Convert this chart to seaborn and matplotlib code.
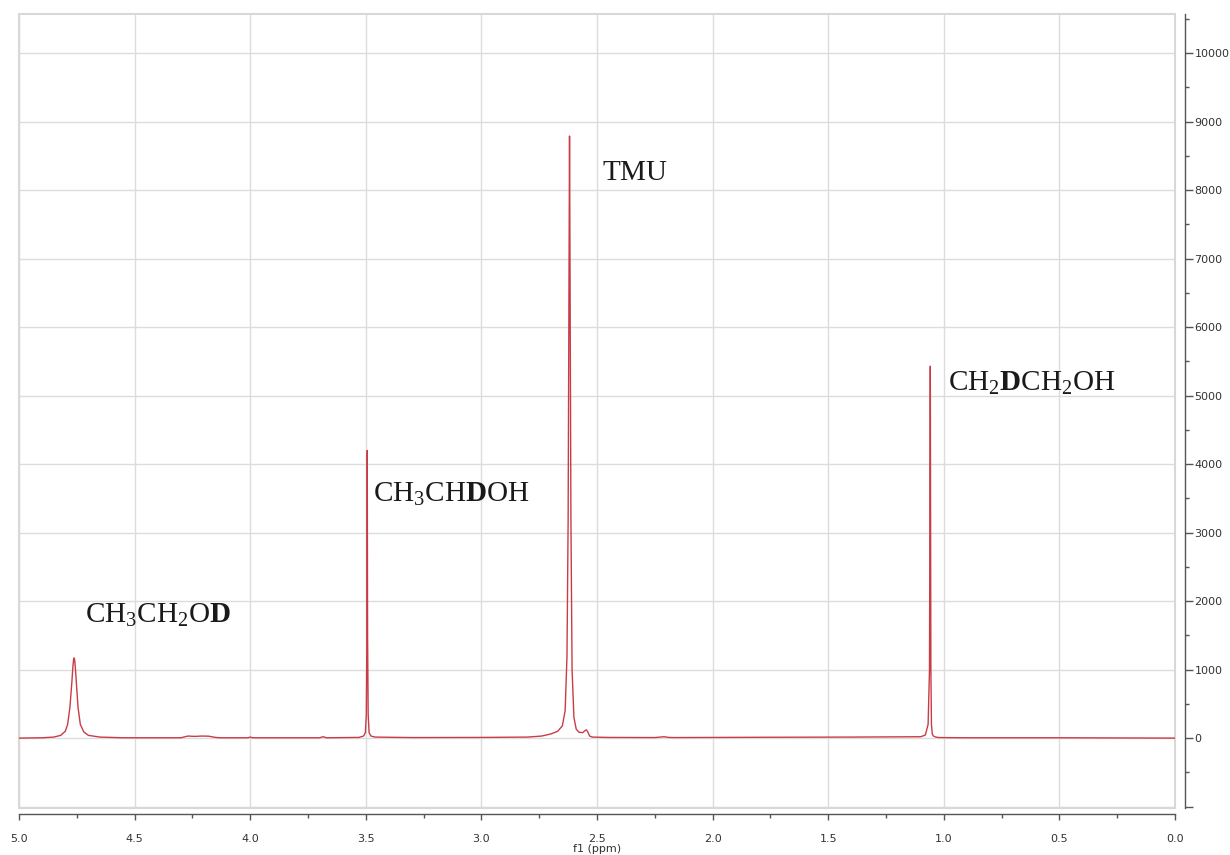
import numpy as np
import pandas as pd
import matplotlib
matplotlib.use('Agg')
import matplotlib.pyplot as plt
import matplotlib.ticker as mticker
from matplotlib.patches import Rectangle
import seaborn as sns

# ── Data: spectrum points (ppm, intensity) ──────────────────────────────
ppm = [5.00, 4.90, 4.85, 4.82, 4.80, 4.79, 4.78, 4.772, 4.767, 4.764,
       4.762, 4.760, 4.757, 4.752, 4.745, 4.735, 4.72, 4.70, 4.65, 4.55,
       4.30, 4.27, 4.24, 4.21, 4.18, 4.15, 4.13, 4.01, 4.00, 3.99,
       3.70, 3.685, 3.67, 3.53, 3.51, 3.502, 3.498, 3.4955, 3.494, 3.4925,
       3.490, 3.486, 3.478, 3.46, 3.30, 3.00, 2.80, 2.74, 2.70, 2.67,
       2.65, 2.638, 2.630, 2.625, 2.621, 2.619, 2.617, 2.613, 2.608, 2.600,
       2.590, 2.578, 2.562, 2.552, 2.546, 2.540, 2.532, 2.52, 2.45, 2.25,
       2.21, 2.19, 2.17, 1.80, 1.40, 1.10, 1.08, 1.068, 1.062, 1.0585,
       1.056, 1.0535, 1.050, 1.045, 1.035, 1.02, 0.90, 0.50, 0.00]
intensity = [0, 5, 15, 40, 100, 200, 450, 800, 1050, 1150,
             1170, 1150, 1050, 800, 450, 200, 90, 40, 15, 5,
             5, 30, 25, 30, 28, 10, 5, 5, 15, 5,
             5, 20, 5, 10, 30, 80, 350, 1500, 4200, 1500,
             350, 80, 30, 15, 8, 10, 15, 30, 60, 100,
             180, 400, 1200, 3200, 7000, 8790, 7000, 3200, 1000, 300,
             130, 85, 80, 110, 120, 90, 30, 15, 10, 8,
             20, 10, 8, 12, 15, 20, 45, 200, 1000, 5430,
             1000, 200, 60, 30, 15, 8, 5, 5, 0]

labels = ['$\\mathrm{CH_3CH_2O}\\mathbf{D}$',
          '$\\mathrm{CH_3CH}\\mathbf{D}\\mathrm{OH}$',
          '$\\mathrm{TMU}$',
          '$\\mathrm{CH_2}\\mathbf{D}\\mathrm{CH_2OH}$']
label_ppm = [4.715, 3.47, 2.48, 0.98]
label_y = [1800, 3570, 8270, 5180]

df = pd.DataFrame({'ppm': ppm, 'intensity': intensity})

# ── Style ────────────────────────────────────────────────────────────────
sns.set_theme(style='white')
plt.rcParams['font.family'] = ['DejaVu Sans']
plt.rcParams['mathtext.fontset'] = 'custom'
plt.rcParams['mathtext.rm'] = 'Liberation Serif'
plt.rcParams['mathtext.bf'] = 'Liberation Serif:bold'

fig = plt.figure(figsize=(12.3, 8.55), dpi=100)
ax = fig.add_axes([0.0155, 0.055, 0.9398, 0.9285])

sns.lineplot(data=df, x='ppm', y='intensity', ax=ax, color='#c83c46',
             linewidth=1.0, sort=False, estimator=None)

ax.set_xlim(5.0, 0.0)
ax.set_ylim(-1020, 10570)

# grid
ax.xaxis.set_major_locator(mticker.MultipleLocator(0.5))
ax.xaxis.set_minor_locator(mticker.MultipleLocator(0.25))
ax.yaxis.set_major_locator(mticker.MultipleLocator(1000))
ax.yaxis.set_minor_locator(mticker.MultipleLocator(500))
ax.grid(True, which='major', color='#dcdcdc', linewidth=1.0)
ax.xaxis.set_major_formatter(mticker.FormatStrFormatter('%.1f'))
ax.yaxis.set_major_formatter(mticker.FuncFormatter(
    lambda v, _: '' if v < 0 else f'{v:.0f}'))

# spines: y on the right, x at the bottom, both pushed out of the frame
ax.yaxis.tick_right()
ax.yaxis.set_label_position('right')
for s in ['left', 'top']:
    ax.spines[s].set_visible(False)
ax.spines['right'].set_position(('outward', 7))
ax.spines['bottom'].set_position(('outward', 4))
for s in ['right', 'bottom']:
    ax.spines[s].set_color('#555555')
    ax.spines[s].set_linewidth(1.0)

ax.tick_params(axis='both', which='both', colors='#555555', labelcolor='#333333',
               labelsize=8, direction='out')
ax.tick_params(axis='y', which='major', length=6, width=1, pad=1)
ax.tick_params(axis='y', which='minor', length=3, width=1)
ax.tick_params(axis='x', which='major', length=4, width=1, pad=11)
ax.tick_params(axis='x', which='minor', length=3, width=1)
ax.xaxis.set_tick_params(which='both', bottom=True, top=False)

ax.set_xlabel('f1 (ppm)', fontsize=8, color='#333333', labelpad=0)
ax.set_ylabel('')

# light grey frame around the plotting area
ax.add_patch(Rectangle((0, 0), 1, 1, transform=ax.transAxes, fill=False,
                       edgecolor='#d8d8d8', linewidth=1.5, clip_on=False))

for txt, xp, yp in zip(labels, label_ppm, label_y):
    ax.text(xp, yp, txt, fontsize=21, color='#1a1a1a', ha='left', va='center')

fig.savefig('out.png', dpi=100)
